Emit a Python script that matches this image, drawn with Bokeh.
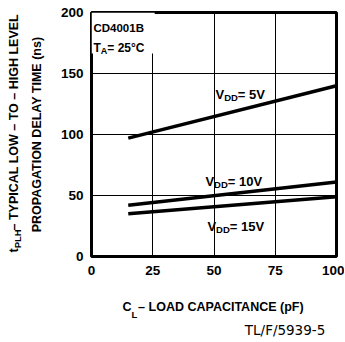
from bokeh.plotting import figure
from bokeh.models import FixedTicker, LinearAxis
from bokeh.core.properties import value
from bokeh.embed import file_html
from bokeh.resources import INLINE

# ---- data ----
cap_pf = [15, 100]
vdd5_ns = [97, 140]
vdd10_ns = [42, 61]
vdd15_ns = [35, 49]
x_ticks = [0, 25, 50, 75, 100]
y_ticks = [0, 50, 100, 150, 200]

FONT = "Liberation Sans"
W = {' ': .278, '–': .556, '-': .333, '=': .584, '°': .4, '(': .333, ')': .333, '/': .278,
     'A': .722, 'B': .722, 'C': .722, 'D': .722, 'E': .667, 'F': .611, 'G': .778, 'H': .722,
     'I': .278, 'L': .611, 'M': .833, 'N': .722, 'O': .778, 'P': .667, 'R': .722, 'S': .667,
     'T': .611, 'V': .667, 'W': .944, 'Y': .667, 'a': .556, 'n': .611, 'p': .611, 's': .556,
     't': .333}


def tw(s, size):
    return sum(W.get(c, .556) for c in s) * size


p = figure(width=344, height=341, x_range=(0, 100), y_range=(0, 200), title=None,
           output_backend="svg", toolbar_location=None,
           min_border_left=91, min_border_right=8, min_border_top=12, min_border_bottom=85)
p.background_fill_color = "white"
p.border_fill_color = "white"
p.outline_line_color = "black"
p.outline_line_width = 3

p.xaxis.ticker = FixedTicker(ticks=x_ticks)
p.yaxis.ticker = FixedTicker(ticks=y_ticks)
p.xgrid.ticker = FixedTicker(ticks=x_ticks)
p.ygrid.ticker = FixedTicker(ticks=y_ticks)
for g in (p.xgrid, p.ygrid):
    g.grid_line_color = "black"
    g.grid_line_width = 1
    g.grid_line_alpha = 1


def style_axis(ax, size="13.5px", font=FONT, bold=True, standoff=8):
    ax.axis_line_color = None
    ax.major_tick_line_color = None
    ax.minor_tick_line_color = None
    ax.major_tick_in = 0
    ax.major_tick_out = 0
    ax.minor_tick_in = 0
    ax.minor_tick_out = 0
    ax.major_label_text_font = font
    ax.major_label_text_font_style = "bold" if bold else "normal"
    ax.major_label_text_font_size = size
    ax.major_label_text_color = "black"
    ax.major_label_standoff = standoff


style_axis(p.xaxis[0], standoff=9)
style_axis(p.yaxis[0], standoff=8)

# y title, line 2 (centered on the frame) as the axis label
p.yaxis.axis_label = "PROPAGATION DELAY TIME (ns)"
p.yaxis.axis_label_text_font = FONT
p.yaxis.axis_label_text_font_style = "bold"
p.yaxis.axis_label_text_font_size = "12.5px"
p.yaxis.axis_label_text_color = "black"
p.yaxis.axis_label_standoff = 14


def text_axis(side, labels, size, standoff, orientation="horizontal", font=FONT, bold=True):
    """Extra axis whose tick labels carry title text at data positions."""
    ax = LinearAxis(ticker=FixedTicker(ticks=list(labels.keys())),
                    major_label_overrides=dict(labels),
                    major_label_orientation=orientation)
    style_axis(ax, size=size, font=font, bold=bold, standoff=standoff)
    p.add_layout(ax, side)
    return ax


# y title line 1: "t", "– TYPICAL ..." then subscript "PLH" (positions in ns units)
text_axis("left", {5.0: "t", 110.0: "– TYPICAL LOW – TO – HIGH LEVEL"}, "12.5px", 5,
          orientation="vertical")
text_axis("left", {14.5: "PLH"}, "9.5px", -19, orientation="vertical")

# x title: "C", "– LOAD CAPACITANCE (pF)", then subscript "L"; figure code below
text_axis("below", {14.5: "C", 52.8: "– LOAD CAPACITANCE (pF)"}, "12.5px", 22)
text_axis("below", {17.5: "L"}, "9.5px", -8)
text_axis("below", {79.0: "TL/F/5939-5"}, "13.5px", -1, font="DejaVu Sans", bold=False)

# white box behind the part label (hides the grid there)
p.quad(left=0, right=25.8, bottom=166.4, top=200, fill_color="white", line_color=None)

for ys in (vdd5_ns, vdd10_ns, vdd15_ns):
    p.line(cap_pf, ys, line_width=3.5, line_color="black")


def rich_data(x, y, parts, size, sub_size):
    off = 0.0
    for txt, sub in parts:
        fs = sub_size if sub else size
        p.text(x=[x], y=[y], text=[txt], x_offset=off, y_offset=(3 if sub else 0),
               text_font=value(FONT), text_font_style="bold", text_font_size=f"{fs}px",
               text_baseline="alphabetic", text_align="left", text_color="black")
        off += tw(txt, fs)


rich_data(0.8, 186.9, [("CD4001B", False)], 11.5, 9)
rich_data(0.8, 171.3, [("T", False), ("A", True), (" = 25°C", False)], 12, 9)
rich_data(50.6, 132.8, [("V", False), ("DD", True), (" = 5V", False)], 13, 9.5)
rich_data(46.5, 61.7, [("V", False), ("DD", True), (" = 10V", False)], 13, 9.5)
rich_data(47.3, 24.8, [("V", False), ("DD", True), (" = 15V", False)], 13, 9.5)

open("out.html", "w").write(file_html(p, INLINE))
